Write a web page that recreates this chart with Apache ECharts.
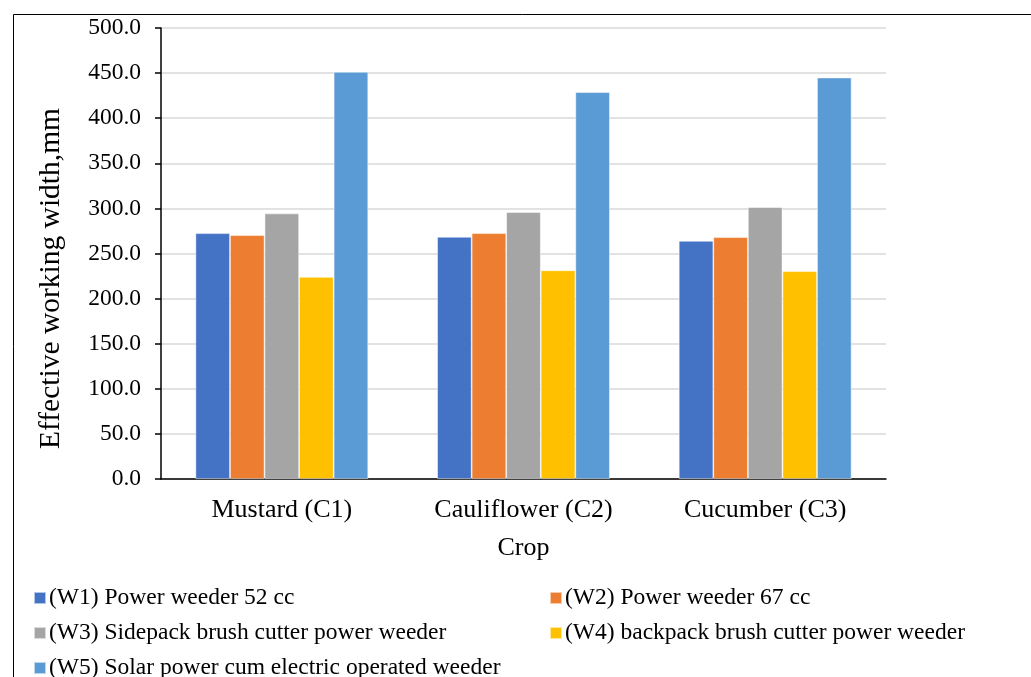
<!DOCTYPE html>
<html><head><meta charset="utf-8">
<script src="https://cdn.jsdelivr.net/npm/echarts@6/dist/echarts.min.js"></script>
<style>html,body{margin:0;padding:0;background:#fff}#c{width:1031px;height:677px}</style>
</head><body><div id="c"></div>
<script>
const categories = ['Mustard (C1)', 'Cauliflower (C2)', 'Cucumber (C3)'];
const seriesNames = ['(W1) Power weeder 52 cc', '(W2) Power weeder 67 cc', '(W3) Sidepack brush cutter power weeder', '(W4) backpack brush cutter power weeder', '(W5) Solar power cum electric operated weeder'];
const w1 = [272.5, 268.5, 264.0];
const w2 = [270.3, 272.5, 268.1];
const w3 = [294.4, 295.9, 301.4];
const w4 = [224.0, 231.4, 230.4];
const w5 = [451.4, 428.9, 445.1];
const values = [w1, w2, w3, w4, w5];
const colors = ['#4472C4', '#ED7D31', '#A5A5A5', '#FFC000', '#5B9BD5'];
const yTicks = { min: 0, max: 500, interval: 50 };

const font = 'Liberation Serif, Times New Roman, serif';
const chart = echarts.init(document.getElementById('c'));
const legendPos = [[33, 596], [549, 596], [33, 631], [549, 631], [33, 666]];
chart.setOption({
  animation: false,
  textStyle: { fontFamily: font },
  graphic: [{ type: 'rect', shape: { x: 13.5, y: 14.5, width: 1030, height: 680 }, style: { fill: 'none', stroke: '#000', lineWidth: 1 }, silent: true }],
  grid: { left: 161, right: 145, top: 28, bottom: 198 },
  legend: seriesNames.map((n, i) => ({
    data: [n], left: legendPos[i][0], top: legendPos[i][1] - 10, padding: 0, itemWidth: 12, itemHeight: 12, itemGap: 4,
    icon: 'rect', textStyle: { fontFamily: font, fontSize: 23.5, color: '#000', padding: [0, 0, 0, -2] }, selectedMode: false
  })),
  xAxis: {
    type: 'category', data: categories,
    name: 'Crop', nameLocation: 'middle', nameGap: 56,
    nameTextStyle: { fontFamily: font, fontSize: 26, color: '#000' },
    axisLine: { lineStyle: { color: '#000', width: 1.5 } },
    axisTick: { length: 7, lineStyle: { color: '#000', width: 1.5 } },
    axisLabel: { fontFamily: font, fontSize: 26, color: '#000', margin: 18 }
  },
  yAxis: {
    type: 'value', min: yTicks.min, max: yTicks.max, interval: yTicks.interval,
    name: 'Effective working width,mm', nameLocation: 'middle', nameGap: 95, nameRotate: 90,
    nameTextStyle: { fontFamily: font, fontSize: 29.5, color: '#000', padding: [0, 50, 0, 0] },
    axisLine: { show: true, lineStyle: { color: '#000', width: 1.5 } },
    axisTick: { show: true, length: 6, lineStyle: { color: '#000', width: 1.5 } },
    axisLabel: { fontFamily: font, fontSize: 23.5, color: '#000', margin: 20, formatter: v => v.toFixed(1) },
    splitLine: { lineStyle: { color: '#d9d9d9', width: 1.5 } }
  },
  series: seriesNames.map((n, i) => ({
    name: n, type: 'bar', data: values[i], barGap: '0%', barCategoryGap: '28.5%',
    itemStyle: { color: colors[i], borderColor: 'rgba(255,255,255,0.6)', borderWidth: 0.8 }
  }))
});
</script></body></html>
